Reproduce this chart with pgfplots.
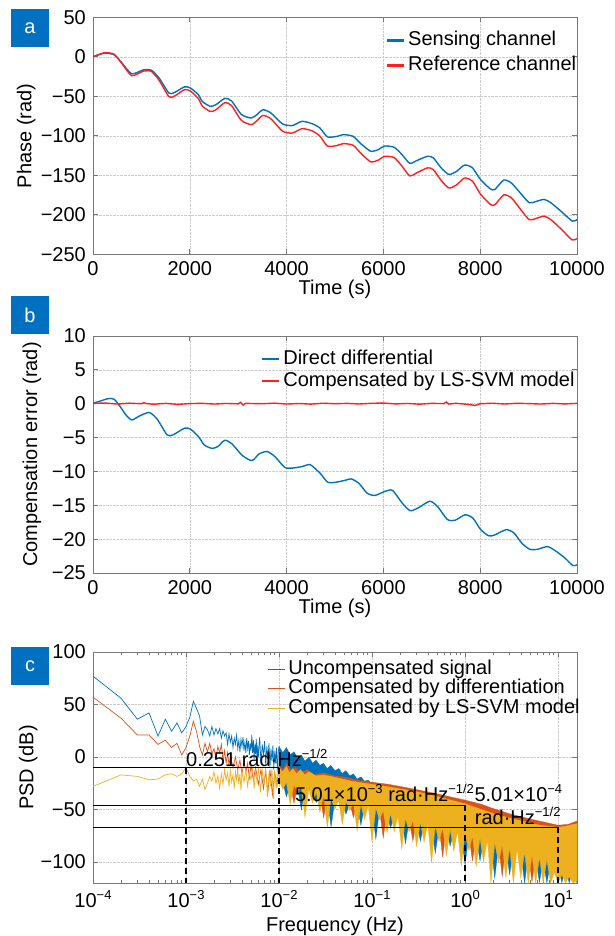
\documentclass[border=0pt]{standalone}
\usepackage{fontspec}
\setmainfont{Liberation Sans}
\usepackage{pgfplots}
\pgfplotsset{compat=1.18}

\definecolor{mblue}{rgb}{0,0.447,0.741}
\definecolor{mred}{rgb}{1,0.12,0.12}
\definecolor{morange}{rgb}{0.85,0.325,0.098}
\definecolor{myellow}{rgb}{0.929,0.694,0.125}
\definecolor{boxblue}{RGB}{0,112,192}
\definecolor{framegray}{RGB}{120,120,120}

\newcommand\sups[1]{\raisebox{0.42em}{\fontsize{13bp}{13bp}\selectfont #1}}
\newcommand\bigf{\fontsize{20bp}{24bp}\selectfont}

\pgfplotsset{
  panel/.style={
    scale only axis, width=484bp,
    tick align=inside, major tick length=5bp, minor tick length=3bp,
    axis line style={framegray, line width=0.8bp},
    every tick/.style={framegray, line width=0.8bp},
    grid=major, grid style={densely dotted, gray!40, line width=0.6bp},
    scaled x ticks=false, scaled y ticks=false,
    /pgf/number format/assume math mode=true,
    /pgf/number format/set thousands separator={},
    tick label style={font=\bigf, inner sep=0pt},
    label style={font=\bigf},
    yticklabel style={xshift=-7bp},
    xticklabel style={yshift=-7bp},
    legend style={draw=none, fill=none, font=\bigf, anchor=north west,
      inner sep=0pt, nodes={inner sep=0pt, text height=15bp, text depth=5bp},
      /tikz/column 1/.style={column sep=3bp}},
    legend cell align=left,
    legend image code/.code={\draw[#1, line width=2.2bp] (0bp,0bp) -- (17bp,0bp);},
  },
}

\begin{document}
\bigf
\begin{tikzpicture}
\useasboundingbox (0,0) rectangle (615bp,-936bp);

% ---------------- panel a ----------------
\begin{axis}[panel, at={(93bp,-17.3bp)}, anchor=north west, height=237bp,
  xmin=0, xmax=10000, ymin=-250, ymax=50,
  xtick={0,2000,4000,6000,8000,10000},
  ytick={-250,-200,-150,-100,-50,0,50},
  yticklabels={−250,−200,−150,−100,−50,0,50},
  xlabel={Time (s)}, ylabel={Phase (rad)},
  xlabel style={at={(axis description cs:0.5,-0.148)}, anchor=center},
  ylabel style={at={(axis description cs:-0.138,0.5)}, anchor=center},
  legend style={at={(axis description cs:0.605,0.945)}, /tikz/row sep=5bp},
]
\addplot[mblue, line width=1.4bp, smooth, tension=0.4] coordinates {
(0,0) (235,4.6) (437,2.5) (600,-8) (800,-21.5) (1044,-16.5) (1205,-17) (1367,-27)
(1570,-46) (1690,-45) (1893,-38) (2015,-39.6) (2177,-48) (2257,-56.4) (2420,-62.7)
(2540,-60.6) (2727,-52.6) (2864,-56) (3066,-73) (3270,-77.5) (3390,-73) (3511,-67)
(3673,-71) (3916,-85) (4118,-87) (4320,-81.7) (4523,-84.6) (4685,-90) (4846,-101.4)
(5049,-100.6) (5170,-98.5) (5372,-100.6) (5534,-110) (5736,-119.5) (5898,-117.4)
(6019,-113) (6222,-114.5) (6383,-123.7) (6545,-135) (6667,-132) (6909,-126)
(7031,-128) (7193,-140.6) (7354,-149) (7516,-144.8) (7678,-137) (7840,-140.6)
(8002,-155) (8204,-167) (8301,-168) (8487,-156) (8649,-160) (8851,-174) (9013,-184.7)
(9134,-183.5) (9320,-180.5) (9458,-184.7) (9660,-195) (9903,-208) (10000,-206)};
\addplot[mred, line width=1.4bp, smooth, tension=0.4] coordinates {
(0,0) (235,5.2) (437,3.2) (600,-8.7) (800,-23.9) (1044,-18.1) (1205,-18.5) (1367,-29.8)
(1570,-50.6) (1690,-49.5) (1893,-41.6) (2015,-43.4) (2177,-52.9) (2257,-62.1) (2420,-69.2)
(2540,-67) (2727,-58) (2864,-61.9) (3066,-80.5) (3270,-85.8) (3390,-80.7) (3511,-74.2)
(3673,-78.4) (3916,-94.1) (4118,-96.5) (4320,-91) (4523,-93.7) (4685,-100.2) (4846,-113)
(5049,-112.2) (5170,-109.9) (5372,-111.9) (5534,-122.1) (5736,-132.9) (5898,-130.7)
(6019,-126) (6222,-127.6) (6383,-138.4) (6545,-150.8) (6667,-147.6) (6909,-140.6)
(7031,-142.8) (7193,-156.5) (7354,-166.1) (7516,-161.9) (7678,-153.4) (7840,-157.5)
(8002,-173.5) (8204,-186.5) (8301,-187.4) (8487,-174.8) (8649,-178.9) (8851,-194.5)
(9013,-206.2) (9134,-205) (9320,-201.7) (9458,-206.1) (9660,-217.3) (9903,-231.9) (10000,-229.8)};
\legend{Sensing channel, Reference channel}
\end{axis}

% ---------------- panel b ----------------
\begin{axis}[panel, at={(93bp,-336bp)}, anchor=north west, height=237bp,
  xmin=0, xmax=10000, ymin=-25, ymax=10,
  xtick={0,2000,4000,6000,8000,10000},
  ytick={-25,-20,-15,-10,-5,0,5,10},
  yticklabels={−25,−20,−15,−10,−5,0,5,10},
  xlabel={Time (s)}, ylabel={Compensation error (rad)},
  xlabel style={at={(axis description cs:0.5,-0.148)}, anchor=center},
  ylabel style={at={(axis description cs:-0.126,0.5)}, anchor=center},
  legend style={at={(axis description cs:0.347,0.945)}, /tikz/row sep=2bp},
]
\addplot[mblue, line width=1.4bp, smooth, tension=0.4] coordinates {
(0,0.07) (154,0.4) (316,0.76) (437,0.66) (559,-0.4) (680,-1.65) (802,-2.4) (964,-1.8)
(1166,-1.3) (1328,-2.3) (1531,-4.6) (1652,-4.6) (1895,-3.6) (2017,-3.77) (2179,-4.85)
(2300,-6.1) (2462,-6.6) (2584,-6.3) (2722,-5.4) (2867,-5.9) (3070,-7.55) (3232,-8.3)
(3313,-8.3) (3434,-7.4) (3596,-7.06) (3758,-7.8) (3961,-9.4) (4123,-9.5) (4325,-9.27)
(4487,-9.0) (4690,-10.26) (4852,-11.6) (5014,-11.6) (5216,-11.3) (5338,-11.1)
(5500,-11.8) (5662,-13.2) (5824,-13.55) (6026,-12.96) (6188,-12.8) (6391,-14.7)
(6553,-15.8) (6715,-15.4) (6958,-14.4) (7120,-15.2) (7322,-17.1) (7484,-17.2)
(7687,-16.4) (7849,-16.9) (8011,-18.6) (8173,-19.5) (8294,-19.4) (8537,-18.6)
(8699,-19.1) (8861,-20.6) (9023,-21.5) (9185,-21.5) (9388,-21.1) (9550,-21.7)
(9752,-22.8) (9914,-23.9) (10000,-23.8)};
\addplot[mred, line width=1.4bp] coordinates {
(0,0.05) (250,0.1) (500,-0.05) (750,0.08) (1000,0.0) (1050,0.15) (1100,0.02) (1250,-0.08)
(1500,0.05) (1750,-0.1) (2000,0.02) (2250,0.06) (2500,-0.05) (2750,0.04) (3000,-0.02)
(3050,0.2) (3100,-0.2) (3150,0.05) (3500,0.0) (3750,0.08) (4000,-0.05) (4250,0.03)
(4500,-0.06) (4750,0.07) (5000,0.0) (5250,0.05) (5500,-0.04) (5750,0.06) (6000,0.1)
(6250,-0.03) (6500,0.04) (6750,-0.07) (7000,0.05) (7250,0.02) (7300,0.25) (7350,-0.05)
(7500,0.06) (7750,-0.1) (7900,-0.25) (8000,0.0) (8250,0.07) (8500,-0.04) (8750,0.06)
(9000,0.02) (9250,-0.05) (9500,0.05) (9750,-0.03) (10000,0.05)};
\legend{Direct differential, Compensated by LS-SVM model}
\end{axis}

% ---------------- panel c ----------------
\begin{axis}[panel, at={(93bp,-652bp)}, anchor=north west, height=231bp,
  xmode=log, xmin=1e-4, xmax=16, ymin=-120, ymax=100,
  xtick={1e-4,1e-3,1e-2,1e-1,1,10},
  xticklabels={10\sups{−4},10\sups{−3},10\sups{−2},10\sups{−1},10\sups{0},10\sups{1}},
  minor xtick={2e-4,3e-4,4e-4,5e-4,6e-4,7e-4,8e-4,9e-4,
    2e-3,3e-3,4e-3,5e-3,6e-3,7e-3,8e-3,9e-3,
    2e-2,3e-2,4e-2,5e-2,6e-2,7e-2,8e-2,9e-2,
    0.2,0.3,0.4,0.5,0.6,0.7,0.8,0.9,2,3,4,5,6,7,8,9},
  ytick={-100,-50,0,50,100},
  yticklabels={−100,−50,0,50,100},
  xlabel={Frequency (Hz)}, ylabel={PSD (dB)},
  xlabel style={at={(axis description cs:0.5,-0.186)}, anchor=center},
  ylabel style={at={(axis description cs:-0.134,0.5)}, anchor=center},
  legend style={at={(axis description cs:0.3595,0.97)}, /tikz/row sep=-0.5bp},
  legend image code/.code={\draw[#1, line width=1.2bp] (0bp,0bp) -- (17bp,0bp);},
]
% uncompensated signal
\addplot[mblue, line width=0.7bp] coordinates {
(1e-4,77) (2e-4,56) (3e-4,36) (4e-4,42) (5e-4,20) (6e-4,36) (7e-4,24.5) (8e-4,32.5)
(9e-4,23) (1e-3,29) (1.1e-3,38) (1.2e-3,53) (1.3e-3,46) (1.4e-3,39) (1.5e-3,21)
(1.6e-3,29) (1.7e-3,26) (1.8e-3,20) (1.9e-3,29) (2e-3,21) (2.1e-3,27) (2.2e-3,22)
(2.3e-3,27) (2.4e-3,18) (2.5e-3,25) (2.6e-3,20) (2.7e-3,23) (2.8e-3,12) (2.9e-3,22)
(3e-3,14) (3.1e-3,20) (3.2e-3,9) (3.3e-3,18) (3.4e-3,12) (3.5e-3,21) (3.6e-3,8)
(3.7e-3,16) (3.8e-3,5) (3.9e-3,17) (4e-3,10) (4.1e-3,19) (4.2e-3,6) (4.3e-3,14)
(4.4e-3,4) (4.5e-3,18) (4.6e-3,8) (4.7e-3,15) (4.8e-3,2) (4.9e-3,13) (5e-3,6)
(5.1e-3,21) (5.2e-3,4) (5.3e-3,16) (5.4e-3,-2) (5.5e-3,12) (5.6e-3,3) (5.7e-3,17)
(5.8e-3,-4) (5.9e-3,11) (6e-3,0) (6.2e-3,19) (6.4e-3,-6) (6.6e-3,12) (6.8e-3,2)
(7e-3,15) (7.2e-3,-8) (7.4e-3,10) (7.6e-3,-2) (7.8e-3,13) (8e-3,-10) (8.2e-3,8)
(8.4e-3,-4) (8.6e-3,11) (8.8e-3,-12) (9e-3,6) (9.2e-3,-6) (9.4e-3,9) (9.6e-3,-14)
(9.8e-3,4) (1e-2,10)};
\addplot[mblue, fill=mblue, line width=0.3bp, forget plot] coordinates {
(0.01,10) (0.011,4) (0.012,9) (0.0132,2) (0.0145,5) (0.0158,-1) (0.0174,2) (0.019,-4)
(0.021,0) (0.023,-6) (0.025,-3) (0.0275,-8) (0.030,-6) (0.033,-11) (0.036,-8) (0.040,-13)
(0.044,-11) (0.048,-16) (0.052,-13) (0.058,-18) (0.063,-16) (0.069,-21) (0.076,-19)
(0.083,-23) (0.091,-22) (0.1,-26) (0.12,-27) (0.15,-30) (0.2,-33) (0.3,-37) (0.5,-42)
(1,-49) (2,-57) (4,-63) (8,-68) (12,-68) (16,-66)
(16,-120) (14.5,-106) (13.2,-120) (12,-104) (11,-120) (10,-102) (9.12,-101) (8.32,-100)
(7.59,-120) (6.92,-97.6) (6.31,-119.5) (5.75,-95.3) (5.25,-94.1) (4.79,-92.9) (4.37,-120)
(3.98,-90.4) (3.63,-89.2) (3.31,-88.1) (3.02,-112) (2.75,-85.8) (2.51,-84.7) (2.29,-83.6)
(2.09,-115.4) (1.9,-81.3) (1.74,-80.2) (1.58,-79.1) (1.45,-99) (1.32,-76.9) (1.2,-75.8)
(1.1,-74.7) (1,-102.6) (0.912,-72.5) (0.832,-71.6) (0.759,-70.7) (0.692,-84.9) (0.631,-69)
(0.575,-68.2) (0.525,-67.4) (0.479,-91.6) (0.437,-65.7) (0.398,-64.8) (0.363,-63.9)
(0.331,-80) (0.302,-62) (0.275,-61.2) (0.251,-60.3) (0.229,-82.4) (0.209,-58.5)
(0.19,-57.3) (0.174,-56) (0.158,-67.7) (0.145,-53.3) (0.132,-52) (0.12,-50.7) (0.11,-78.3)
(0.1,-48) (0.0912,-47.3) (0.0832,-46.7) (0.0759,-65) (0.0692,-45.4) (0.0631,-44.8)
(0.0575,-44.1) (0.0525,-54.5) (0.0479,-43) (0.0437,-42.2) (0.0398,-41) (0.0363,-66.7)
(0.0331,-38.3) (0.0302,-37) (0.0275,-35.7) (0.0251,-43.3) (0.0229,-33) (0.0209,-31.7)
(0.019,-30.5) (0.0174,-50.4) (0.0158,-28.3) (0.0145,-27.3) (0.0132,-26.2) (0.012,-38)
(0.011,-24) (0.01,-20)} -- cycle;
% compensated by differentiation
\addplot[morange, line width=0.7bp] coordinates {
(1e-4,57) (2e-4,37) (3e-4,21) (4e-4,21) (5e-4,12) (6e-4,16) (7e-4,9) (8e-4,13)
(9e-4,2) (1e-3,9) (1.1e-3,20) (1.2e-3,34) (1.3e-3,24) (1.4e-3,10) (1.5e-3,2)
(1.6e-3,13) (1.7e-3,5) (1.8e-3,13) (1.9e-3,3) (2e-3,8) (2.1e-3,-2) (2.2e-3,10)
(2.3e-3,4) (2.4e-3,12) (2.5e-3,-4) (2.6e-3,6) (2.7e-3,-6) (2.8e-3,4) (2.9e-3,-8)
(3e-3,2) (3.2e-3,-10) (3.4e-3,0) (3.6e-3,-12) (3.8e-3,-3) (4e-3,-16) (4.2e-3,-5)
(4.4e-3,-14) (4.6e-3,-6) (4.8e-3,-20) (5e-3,-8) (5.3e-3,-22) (5.6e-3,-10) (6e-3,-26)
(6.4e-3,-12) (6.8e-3,-30) (7.2e-3,-14) (7.6e-3,-34) (8e-3,-12) (8.5e-3,-36) (9e-3,-15)
(9.5e-3,-28) (1e-2,-8)};
\addplot[morange, fill=morange, line width=0.3bp, forget plot] coordinates {
(0.01,-8) (0.011,-12) (0.012,-6) (0.0135,-13) (0.015,-10) (0.017,-15) (0.02,-12)
(0.024,-17) (0.03,-15) (0.04,-18) (0.05,-19) (0.07,-22) (0.1,-24)
(0.15,-26) (0.2,-28) (0.3,-31) (0.5,-35) (0.7,-38) (1,-41) (1.5,-45) (2,-49) (3,-54)
(5,-59) (8,-63) (10,-65) (13,-64) (16,-61)
(16,-105.5) (14.5,-104.5) (13.2,-103.5) (12,-102.5) (11,-101.5) (10,-100.5) (9.12,-99.4)
(8.32,-98.3) (7.59,-97.2) (6.92,-96.1) (6.31,-95) (5.75,-93.8) (5.25,-119) (4.79,-91.4)
(4.37,-90.1) (3.98,-88.9) (3.63,-87.7) (3.31,-86.6) (3.02,-85.5) (2.75,-84.3) (2.51,-113.7)
(2.29,-82.1) (2.09,-80.9) (1.9,-79.8) (1.74,-78.7) (1.58,-77.6) (1.45,-76.5) (1.32,-75.4)
(1.2,-98.8) (1.1,-73.2) (1,-72.1) (0.912,-71) (0.832,-70.1) (0.759,-69.2) (0.692,-68.4)
(0.631,-67.5) (0.575,-95.2) (0.525,-65.9) (0.479,-65.1) (0.437,-64.2) (0.398,-63.3)
(0.363,-62.4) (0.331,-61.5) (0.302,-60.5) (0.275,-80.2) (0.251,-58.8) (0.229,-57.9)
(0.209,-57) (0.19,-55.8) (0.174,-54.5) (0.158,-53.2) (0.145,-51.8) (0.132,-77)
(0.12,-49.2) (0.11,-47.8) (0.1,-46.5) (0.0912,-45.8) (0.0832,-45.2) (0.0759,-44.5)
(0.0692,-43.9) (0.0631,-57.8) (0.0575,-42.6) (0.0525,-42) (0.0479,-41.5) (0.0437,-40.7)
(0.0398,-39.5) (0.0363,-38.2) (0.0331,-36.8) (0.0302,-58) (0.0275,-34.2) (0.0251,-32.8)
(0.0229,-31.5) (0.0209,-30.2) (0.019,-29) (0.0174,-27.9) (0.0158,-26.8) (0.0145,-44.3)
(0.0132,-24.7) (0.012,-23.5) (0.011,-22.5) (0.01,-18)} -- cycle;
% compensated by LS-SVM model
\addplot[myellow, line width=0.7bp] coordinates {
(1e-4,-28) (2e-4,-17) (3e-4,-18.5) (4e-4,-21.7) (5e-4,-21) (6e-4,-17) (7e-4,-16)
(8e-4,-18.5) (9e-4,-16) (1e-3,-10) (1.1e-3,-18.5) (1.2e-3,-23) (1.3e-3,-21) (1.4e-3,-28)
(1.5e-3,-21) (1.6e-3,-31) (1.7e-3,-25) (1.8e-3,-18.5) (1.9e-3,-23) (2e-3,-14)
(2.1e-3,-25) (2.2e-3,-18) (2.3e-3,-30) (2.4e-3,-16) (2.5e-3,-26) (2.6e-3,-12)
(2.7e-3,-22) (2.8e-3,-15) (2.9e-3,-28) (3e-3,-13) (3.1e-3,-24) (3.2e-3,-17) (3.3e-3,-30)
(3.4e-3,-14) (3.5e-3,-22) (3.6e-3,-12) (3.7e-3,-26) (3.8e-3,-16) (3.9e-3,-32) (4e-3,-14)
(4.2e-3,-24) (4.4e-3,-11) (4.6e-3,-28) (4.8e-3,-15) (5e-3,-22) (5.2e-3,-10) (5.4e-3,-30)
(5.6e-3,-13) (5.8e-3,-24) (6e-3,-9) (6.3e-3,-34) (6.6e-3,-12) (6.9e-3,-26) (7.2e-3,-10)
(7.5e-3,-38) (7.8e-3,-14) (8.1e-3,-28) (8.4e-3,-11) (8.7e-3,-40) (9e-3,-13) (9.3e-3,-30)
(9.6e-3,-12) (1e-2,-14)};
\addplot[myellow, fill=myellow, line width=0.3bp, forget plot] coordinates {
(0.01,-10) (0.011,-14) (0.012,-9) (0.013,-15) (0.014,-11) (0.0155,-16) (0.017,-12)
(0.019,-17) (0.021,-14) (0.025,-18) (0.03,-17) (0.043,-20)
(0.06,-23) (0.1,-26) (0.14,-28) (0.19,-30) (0.3,-33) (0.5,-37.5) (0.7,-41) (1,-44.5)
(1.5,-50) (2.2,-55) (3.7,-60) (6,-64.5) (8,-66) (10,-67) (12,-66) (14,-64.5) (16,-63.5)
(16,-118) (14.5,-120) (13.2,-114) (12,-120) (11,-112) (10,-120) (9.12,-110) (8.32,-120)
(7.59,-97.7) (6.92,-120) (6.31,-95.5) (5.75,-120) (5.25,-93.1) (4.79,-120) (4.37,-90.6)
(3.98,-115.4) (3.63,-88.2) (3.31,-120) (3.02,-86) (2.75,-114.8) (2.51,-83.7) (2.29,-100.6)
(2.09,-81.4) (1.9,-120) (1.74,-79.2) (1.58,-100.1) (1.45,-77) (1.32,-103.9) (1.2,-74.8)
(1.1,-89.7) (1,-72.6) (0.912,-103.5) (0.832,-70.6) (0.759,-89.7) (0.692,-68.9) (0.631,-94)
(0.575,-67.2) (0.525,-80.4) (0.479,-65.6) (0.437,-100.7) (0.398,-63.8) (0.363,-80.9)
(0.331,-62) (0.302,-85) (0.275,-60.2) (0.251,-71.3) (0.229,-58.4) (0.209,-87.5) (0.19,-56.3)
(0.174,-71) (0.158,-53.7) (0.145,-72.3) (0.132,-51) (0.12,-59.7) (0.11,-48.3) (0.1,-81)
(0.0912,-46.3) (0.0832,-59.7) (0.0759,-45) (0.0692,-70.4) (0.0631,-43.8) (0.0575,-51.1)
(0.0525,-42.5) (0.0479,-64) (0.0437,-41.2) (0.0398,-50) (0.0363,-38.7) (0.0331,-67.3)
(0.0302,-36) (0.0275,-52.7) (0.0251,-33.3) (0.0229,-44) (0.0209,-30.7) (0.019,-57.5)
(0.0174,-28.4) (0.0158,-33.3) (0.0145,-26.3) (0.0132,-45.2) (0.012,-24) (0.011,-31)
(0.01,-22)} -- cycle;
% reference levels
\addplot[black, line width=1.2bp, forget plot] coordinates {(1e-4,-10) (1e-2,-10)};
\addplot[black, line width=1.2bp, forget plot] coordinates {(1e-4,-46) (1,-46)};
\addplot[black, line width=1.2bp, forget plot] coordinates {(1e-4,-67) (10,-67)};
\addplot[black, line width=1.2bp, dash pattern=on 6bp off 4bp, forget plot] coordinates {(1e-3,-10) (1e-3,-120)};
\addplot[black, line width=1.2bp, dash pattern=on 6bp off 4bp, forget plot] coordinates {(1e-2,-10) (1e-2,-120)};
\addplot[black, line width=1.2bp, dash pattern=on 6bp off 4bp, forget plot] coordinates {(1,-46) (1,-120)};
\addplot[black, line width=1.2bp, dash pattern=on 6bp off 4bp, forget plot] coordinates {(10,-67) (10,-120)};
\node[anchor=base west, inner sep=0pt, font=\bigf] at (axis cs:1e-3,-9) {0.251 rad·Hz\sups{−1/2}};
\node[anchor=base west, inner sep=0pt, font=\bigf] at (axis cs:0.0148,-42.3) {5.01×10\sups{−3} rad·Hz\sups{−1/2}};
\node[anchor=base west, inner sep=0pt, font=\bigf] at (axis cs:1.26,-42.3) {5.01×10\sups{−4}};
\node[anchor=base west, inner sep=0pt, font=\bigf] at (axis cs:1.27,-64.5) {rad·Hz\sups{−1/2}};
\legend{Uncompensated signal, Compensated by differentiation, Compensated by LS-SVM model}
\end{axis}

% panel letters
\fill[boxblue] (11bp,-9bp) rectangle (49bp,-47bp);
\node[white, font=\bigf] at (30bp,-28bp) {a};
\fill[boxblue] (11bp,-296bp) rectangle (49bp,-334bp);
\node[white, font=\bigf] at (30bp,-315bp) {b};
\fill[boxblue] (11bp,-647bp) rectangle (49bp,-685bp);
\node[white, font=\bigf] at (30bp,-666bp) {c};
\end{tikzpicture}
\end{document}
